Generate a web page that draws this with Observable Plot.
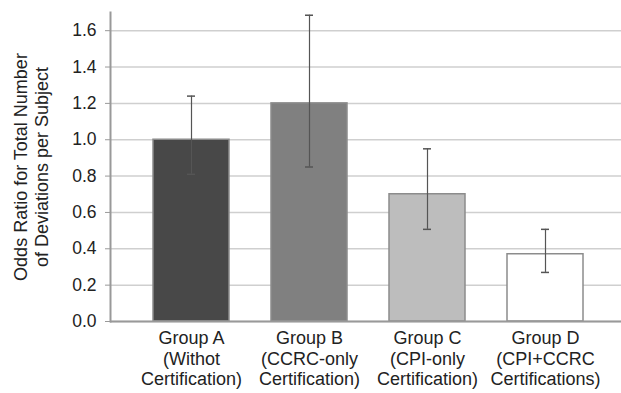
<!DOCTYPE html>
<html>
<head>
<meta charset="utf-8">
<script src="https://cdn.jsdelivr.net/npm/d3@7"></script>
<script src="https://cdn.jsdelivr.net/npm/@observablehq/plot@0.6"></script>
<style>
  html, body { margin: 0; padding: 0; background: #fff; }
</style>
</head>
<body>
<div id="chart"></div>
<script>
const groups = ["Group A", "Group B", "Group C", "Group D"];
const subtitles = ["(Withot\nCertification)", "(CCRC-only\nCertification)", "(CPI-only\nCertification)", "(CPI+CCRC\nCertifications)"];
const oddsRatio = [1.0, 1.2, 0.70, 0.37];
const ciLow = [0.81, 0.85, 0.507, 0.27];
const ciHigh = [1.24, 1.685, 0.95, 0.507];
const fills = ["#484848", "#808080", "#bdbdbd", "#ffffff"];
const yTicks = [0, 0.2, 0.4, 0.6, 0.8, 1.0, 1.2, 1.4, 1.6];
const yLabel = "Odds Ratio for Total Number\nof Deviations per Subject";

const data = groups.map((g, i) => ({group: g, or: oddsRatio[i], lo: ciLow[i], hi: ciHigh[i], fill: fills[i]}));

const chart = Plot.plot({
  width: 621,
  height: 393,
  marginTop: 12,
  marginBottom: 72,
  marginLeft: 110,
  marginRight: 0,
  style: {fontFamily: "'Liberation Sans', Arial, sans-serif", fontSize: "18px", color: "#222", background: "#fff"},
  x: {domain: groups, range: [110, 625], padding: 0.36, label: null},
  y: {domain: [0, 1.7], label: null},
  color: {type: "identity"},
  marks: [
    Plot.gridY(yTicks, {stroke: "#cfcfcf", strokeOpacity: 1, strokeWidth: 1.5}),
    Plot.barY(data, {x: "group", y: "or", fill: "fill", stroke: "#8c8c8c", strokeWidth: 1.5}),
    Plot.ruleX(data, {x: "group", y1: "lo", y2: "hi", stroke: "#555", strokeWidth: 1.2}),
    Plot.tickY(data, {x: "group", y: "hi", insetLeft: 34, insetRight: 34, stroke: "#555", strokeWidth: 1.5}),
    Plot.tickY(data, {x: "group", y: "lo", insetLeft: 34, insetRight: 34, stroke: "#555", strokeWidth: 1.5}),
    Plot.ruleY([0], {stroke: "#999", strokeWidth: 2}),
    Plot.frame({anchor: "left", stroke: "#999", strokeWidth: 2}),
    Plot.axisY(yTicks, {tickFormat: d3.format(".1f"), tickSize: 5, tickPadding: 9, stroke: "#999", fontSize: 17.5, label: null}),
    Plot.axisX({tickSize: 0, tickPadding: 8, fontSize: 18, lineHeight: 1.14, label: null,
      tickFormat: d => d + "\n" + subtitles[groups.indexOf(d)]}),
    Plot.text([yLabel], {frameAnchor: "left", textAnchor: "middle", rotate: -90, dx: -79.5, lineHeight: 1.14, fontSize: 18, fill: "#222"})
  ]
});
document.getElementById("chart").appendChild(chart);
</script>
</body>
</html>
